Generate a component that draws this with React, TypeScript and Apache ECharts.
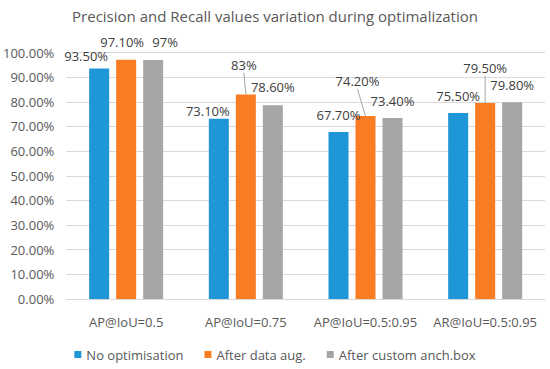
import React, { useEffect, useRef } from "react";
import * as echarts from "echarts";

const title = "Precision and Recall values variation during optimalization";
const categories = ["AP@IoU=0.5", "AP@IoU=0.75", "AP@IoU=0.5:0.95", "AR@IoU=0.5:0.95"];
const seriesNames = ["No optimisation", "After data aug.", "After custom anch.box"];
const noOptimisation = [0.935, 0.731, 0.677, 0.755];
const afterDataAug = [0.971, 0.83, 0.742, 0.795];
const afterAnchBox = [0.97, 0.786, 0.734, 0.798];
const noOptimisationLabels = ["93.50%", "73.10%", "67.70%", "75.50%"];
const afterDataAugLabels = ["97.10%", "83%", "74.20%", "79.50%"];
const afterAnchBoxLabels = ["97%", "78.60%", "73.40%", "79.80%"];
const yMin = 0;
const yMax = 1;
const yInterval = 0.1;

// label placement tweaks (dx, dy in px) and which labels have leader lines
const labelShift: number[][][] = [
  [[-13, -1], [-11, 4], [0, -5.5], [0, -5.5]],
  [[-4, -6], [-2, -18], [-8, -23.5], [0, -23.5]],
  [[12, -6.5], [0, -7], [0, -5.5], [0, -6]],
];
const leaderLines: boolean[][] = [
  [false, false, false, false],
  [false, true, true, true],
  [false, false, false, false],
];

const colors = ["#1E96D7", "#FA7D23", "#A6A6A6"];
const FONT = "'Open Sans', 'Noto Sans', sans-serif";
const BAR_W = 20;
const BAR_GAP = 7;
const LABEL_DIST = 5;
const LABEL_HALF = 6.5;

export default function App() {
  const ref = useRef<HTMLDivElement>(null);
  useEffect(() => {
    if (!ref.current) return;
    const chart = echarts.init(ref.current, null, { renderer: "svg" });
    const values = [noOptimisation, afterDataAug, afterAnchBox];
    const labels = [noOptimisationLabels, afterDataAugLabels, afterAnchBoxLabels];
    const series: any[] = values.map((vals, si) => ({
      name: seriesNames[si],
      type: "bar",
      barWidth: BAR_W,
      barGap: (BAR_GAP / BAR_W) * 100 + "%",
      itemStyle: { color: colors[si] },
      data: vals,
      label: {
        show: true,
        position: "top",
        distance: LABEL_DIST,
        fontFamily: FONT,
        fontSize: 13,
        color: "#404040",
        formatter: (p: any) => labels[si][p.dataIndex],
      },
      labelLayout: (p: any) => ({
        dx: labelShift[si][p.dataIndex][0],
        dy: labelShift[si][p.dataIndex][1],
      }),
    }));
    // leader lines from moved labels to bar tops
    const leaderData: number[][] = [];
    values.forEach((vals, si) =>
      vals.forEach((v, di) => {
        if (leaderLines[si][di]) leaderData.push([di, v, si]);
      })
    );
    series.push({
      type: "custom",
      silent: true,
      z: 5,
      data: leaderData,
      renderItem: (params: any, api: any) => {
        const di = api.value(0);
        const v = api.value(1);
        const si = api.value(2);
        const c = api.coord([di, v]);
        const barX = c[0] + (si - 1) * (BAR_W + BAR_GAP);
        const [dx, dy] = labelShift[si][di];
        const labelBottom = c[1] - LABEL_DIST - LABEL_HALF + dy + 8;
        return {
          type: "line",
          shape: { x1: barX + dx, y1: labelBottom, x2: barX, y2: c[1] },
          style: { stroke: "#A6A6A6", lineWidth: 1 },
        };
      },
    });
    chart.setOption({
      animation: false,
      title: {
        text: title,
        left: "center",
        top: 3,
        textStyle: { fontFamily: FONT, fontSize: 15, fontWeight: "normal", color: "#595959" },
      },
      grid: { left: 65, right: 5, top: 52.5, bottom: 70 },
      legend: {
        data: seriesNames,
        bottom: 3,
        left: "center",
        icon: "rect",
        itemWidth: 7,
        itemHeight: 7,
        itemGap: 21,
        textStyle: { fontFamily: FONT, fontSize: 13, color: "#595959" },
      },
      xAxis: {
        type: "category",
        data: categories,
        axisLine: { lineStyle: { color: "#D9D9D9" } },
        axisTick: { show: false },
        axisLabel: { interval: 0, fontFamily: FONT, fontSize: 13, color: "#595959", margin: 16 },
      },
      yAxis: {
        type: "value",
        min: yMin,
        max: yMax,
        interval: yInterval,
        axisLine: { show: false },
        axisTick: { show: false },
        splitLine: { lineStyle: { color: "#D9D9D9" } },
        axisLabel: {
          fontFamily: FONT,
          fontSize: 13,
          color: "#595959",
          margin: 12,
          formatter: (v: number) => (v * 100).toFixed(2) + "%",
        },
      },
      series,
    });
    return () => chart.dispose();
  }, []);
  return (
    <div
      ref={ref}
      style={{ position: "absolute", left: 0, top: 0, width: 550, height: 369 }}
    />
  );
}
